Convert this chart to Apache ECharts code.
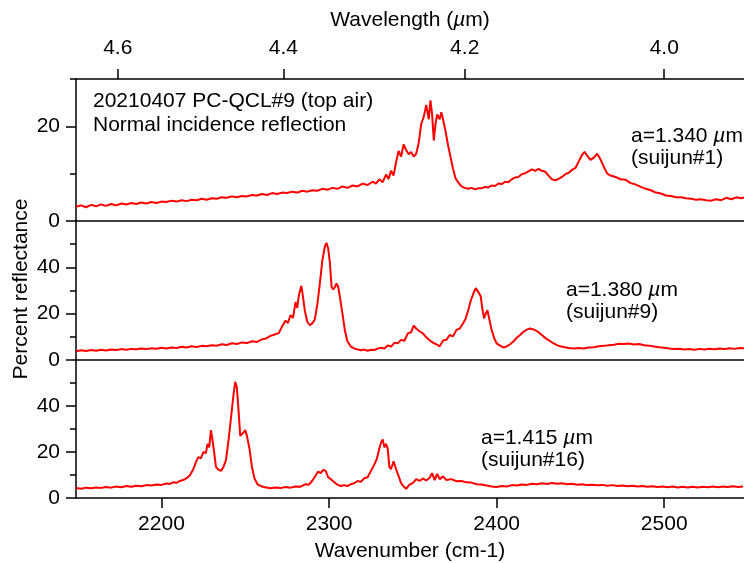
<!DOCTYPE html>
<html><head><meta charset="utf-8">
<script src="https://cdn.jsdelivr.net/npm/echarts@6/dist/echarts.min.js"></script>
<style>html,body{margin:0;padding:0;background:#fff}#c{width:744px;height:563px}</style>
</head><body><div id="c"></div>
<script>
// ---- data ----
const wn1=[2149,2152,2155,2158,2161,2164,2167,2170,2173,2176,2179,2182,2185,2188,2191,2194,2197,2200,2203,2206,2209,2212,2215,2218,2221,2224,2227,2230,2233,2236,2239,2242,2245,2248,2251,2254,2257,2260,2263,2266,2269,2272,2275,2278,2281,2284,2287,2290,2293,2296,2299,2302,2305,2308,2311,2314,2317,2320,2323,2326,2328,2330,2332,2334,2335.5,2337,2338.5,2340,2341.5,2343,2344.5,2346,2347.5,2349,2350.5,2352,2353.5,2355,2356.5,2358,2359.5,2360.5,2361.5,2362.5,2363.5,2364.5,2366,2367,2368,2369.5,2371,2372.5,2374,2375.5,2377,2379,2381,2383,2385,2387,2389,2391,2393,2395,2397,2399,2401,2403,2405,2407,2409,2411,2413,2415,2417,2419,2421,2423,2425,2427,2429,2431,2433,2435,2437,2439,2441,2443,2445,2447,2449,2451,2452.5,2454,2456,2458,2460,2462,2464,2466,2468,2471,2474,2477,2480,2483,2486,2489,2492,2495,2498,2501,2504,2507,2510,2513,2516,2519,2522,2525,2528,2531,2534,2537,2540,2543,2546,2548];
const r1=[3.0,3.3,2.9,3.4,3.1,3.5,3.2,3.6,3.3,3.7,3.5,3.8,3.6,3.9,3.7,4.0,3.8,4.1,4.0,4.3,4.1,4.4,4.2,4.5,4.4,4.7,4.5,4.8,4.7,5.0,4.9,5.2,5.0,5.3,5.2,5.5,5.4,5.7,5.5,5.9,5.7,6.0,5.9,6.2,6.0,6.4,6.2,6.5,6.4,6.8,6.6,7.0,6.8,7.3,7.0,7.5,7.3,7.9,7.6,8.3,7.9,8.8,8.2,9.8,8.9,10.6,9.6,12.5,14.8,13.6,16.2,15.0,14.1,14.6,13.6,14.2,16.5,20.5,22.0,24.5,21.5,25.5,22.5,17.0,20.5,22.5,21.5,23.0,21.5,19.0,16.0,13.5,11.0,9.0,8.2,7.3,7.0,6.8,7.0,6.7,6.9,6.9,7.2,7.1,7.5,7.4,7.9,7.8,8.3,8.2,8.8,9.2,9.3,9.9,10.1,10.5,10.9,10.6,11.0,10.6,10.4,9.6,8.8,8.6,8.9,9.3,9.9,10.2,10.8,11.2,12.6,14.0,14.6,13.8,12.9,13.4,14.2,13.0,11.4,10.0,9.6,9.3,8.8,8.7,8.0,7.7,7.2,6.8,6.5,6.0,5.8,5.4,5.3,5.0,5.0,4.8,4.7,4.5,4.6,4.4,4.3,4.6,4.4,4.9,4.6,5.0,4.8,5.0];

const wn2=[2149,2152,2155,2158,2161,2164,2167,2170,2173,2176,2179,2182,2185,2188,2191,2194,2197,2200,2203,2206,2209,2212,2215,2218,2221,2224,2227,2230,2233,2236,2239,2242,2245,2248,2251,2254,2257,2260,2262.5,2265,2267.5,2270,2272,2274,2275.5,2277,2278.5,2280,2281,2282,2283.5,2284.5,2285.5,2287,2288.5,2290,2291.5,2293,2294.5,2296,2297.5,2298.5,2299.5,2300.5,2301.5,2302.5,2303.5,2304.5,2305.5,2306.5,2308,2309.5,2311,2313,2315,2317,2319,2321,2323,2325,2327,2329,2331,2333,2335,2337,2339,2341,2343,2345,2347,2349,2350.5,2352,2354,2356,2358,2360,2362,2364,2366,2368,2370,2372,2374,2376,2378,2380,2381.5,2383,2384.5,2386,2387.5,2389,2390.5,2391.5,2392.5,2393.5,2394.5,2395.5,2397,2398.5,2400,2402,2404,2406,2408,2410,2412,2414,2416,2418,2420,2422,2424,2426,2428,2430,2432,2434,2436,2438,2440,2443,2446,2449,2452,2455,2458,2461,2464,2467,2470,2473,2476,2479,2482,2485,2488,2491,2494,2497,2500,2503,2506,2509,2512,2515,2518,2521,2524,2527,2530,2533,2536,2539,2542,2545,2548];
const r2=[3.8,4.2,3.9,4.3,4.0,4.4,4.1,4.5,4.3,4.7,4.4,4.8,4.6,5.0,4.7,5.1,4.9,5.3,5.0,5.4,5.2,5.7,5.4,5.9,5.6,6.1,5.9,6.4,6.2,6.8,6.5,7.2,6.9,7.6,7.3,8.1,7.8,8.9,9.3,10.4,11.0,11.6,14.5,17.0,16.0,19.4,18.2,25.0,22.5,28.0,32.0,27.0,21.5,16.5,15.0,15.8,17.5,24.0,33.0,43.0,49.0,50.5,48.0,42.0,31.5,30.5,31.5,33.0,31.5,27.0,20.0,12.5,8.0,5.8,5.0,4.6,4.2,4.5,4.0,4.4,4.3,4.9,5.3,5.0,6.3,5.8,7.4,7.2,8.7,8.3,11.5,12.0,14.8,13.6,12.4,11.5,9.8,8.5,7.5,6.8,5.9,8.4,8.7,10.8,10.2,13.0,13.6,15.9,17.8,21.5,25.5,28.5,31.0,29.5,27.5,22.0,18.0,20.0,21.5,18.0,13.0,9.5,7.2,6.2,5.4,5.9,6.8,8.0,9.6,10.8,12.2,13.1,13.6,13.2,12.5,11.4,10.1,9.0,8.1,7.2,6.4,5.9,5.6,5.2,5.0,5.2,5.0,5.4,5.5,5.9,6.1,6.4,6.6,7.0,6.9,7.1,6.7,6.9,6.4,6.2,5.8,5.5,5.3,5.0,4.8,4.9,4.5,4.7,4.4,4.8,4.5,4.9,4.6,5.0,4.7,5.1,4.8,5.2,5.0];

const wn3=[2149,2152,2155,2158,2161,2164,2167,2170,2173,2176,2179,2182,2185,2188,2191,2194,2197,2200,2203,2205,2207,2209,2211,2213,2215,2217,2219,2220.5,2222,2223.5,2225,2226.5,2227.5,2228.5,2229.5,2230.5,2231.5,2232.5,2234,2235.5,2237,2238.5,2240,2241.5,2243,2244,2245,2246,2247,2248,2249,2250,2251,2252.5,2254,2255.5,2257.5,2260,2262.5,2265,2268,2271,2274,2277,2280,2283,2286,2288,2290,2292,2293.5,2295,2296.5,2298,2299.5,2301,2303,2305,2307,2309,2311,2313,2315,2317,2319,2321,2323,2325,2327,2328.5,2330,2331,2332,2333,2334,2335,2336,2337,2338.5,2340,2341.5,2343,2344.5,2346,2348,2350,2352,2354,2356,2358,2360,2361.5,2363,2364.5,2366,2368,2370,2373,2376,2379,2382,2385,2388,2391,2394,2397,2400,2403,2406,2409,2412,2415,2418,2421,2424,2427,2430,2433,2436,2439,2442,2445,2448,2451,2454,2457,2460,2463,2466,2469,2472,2475,2478,2481,2484,2487,2490,2493,2496,2499,2502,2505,2508,2511,2514,2517,2520,2523,2526,2529,2532,2535,2538,2541,2544,2547];
const r3=[4.3,4.0,4.5,4.2,4.6,4.4,4.8,4.5,5.0,4.7,5.2,4.9,5.3,5.1,5.6,5.4,5.9,5.7,6.3,6.1,6.8,6.6,7.4,7.8,8.6,9.9,12.5,15.5,17.8,17.2,20.0,19.5,23.5,22.0,29.5,25.0,19.5,13.5,12.3,11.8,13.5,16.5,25.0,35.0,45.0,50.5,48.0,38.0,27.0,26.5,28.5,29.5,27.0,21.5,13.5,8.5,5.8,5.0,4.6,4.2,4.6,4.3,4.8,4.5,5.0,4.9,6.0,5.8,7.5,9.8,11.5,10.8,12.2,11.8,9.0,8.2,7.0,5.8,5.2,5.6,5.2,6.0,6.4,7.4,7.0,8.6,9.0,11.8,14.5,17.0,21.5,24.0,25.5,22.0,23.5,21.5,13.5,12.5,16.0,12.5,9.5,6.5,5.0,4.0,5.8,6.5,8.2,7.4,8.5,7.6,8.8,10.8,7.8,10.5,8.2,9.4,7.8,8.2,7.3,7.4,6.8,6.7,6.0,5.9,5.4,5.0,4.8,5.2,5.0,5.6,5.4,5.9,5.7,6.2,6.0,6.4,6.1,6.5,6.2,6.4,6.0,6.2,5.8,6.0,5.6,5.8,5.5,5.7,5.3,5.6,5.2,5.4,5.1,5.3,5.0,5.2,4.9,5.1,4.8,5.0,4.7,5.0,4.6,4.9,4.6,4.9,4.6,4.9,4.7,5.0,4.7,5.0,4.8,5.1,4.8,5.0];

const bottomTicks=[2200,2300,2400,2500];
const topWavelengths=[4.6,4.4,4.2,4.0];
const yMajor1=[0,20], yMinor1=[10,30];
const yMajor23=[0,20,40], yMinor23=[10,30,50,60];
const yMax=[30,60,60];

// ---- chart ----
const FONT='"Liberation Sans", Arial, Helvetica, sans-serif';
const FS=21;
const X_MIN=2149, X_MAX=2547.6;
const BLACK='#000';
const gridsPx=[{top:79,height:142},{top:221,height:139},{top:360,height:138}];
const zip=(a,b)=>a.map((v,i)=>[v,b[i]]);

const grids=gridsPx.map(g=>({left:76,right:-2,top:g.top,height:g.height,show:false}));
const lineOnly={show:true,onZero:false,lineStyle:{color:BLACK,width:1.5}};
const tickStyle={color:BLACK,width:1.5};
const xAxes=[
  {gridIndex:0,type:'value',position:'bottom',min:X_MIN,max:X_MAX,axisLine:lineOnly,axisTick:{show:false},axisLabel:{show:false},splitLine:{show:false}},
  {gridIndex:0,type:'value',position:'top',min:X_MIN,max:X_MAX,axisLine:lineOnly,
    axisTick:{show:true,inside:false,length:10,lineStyle:tickStyle,customValues:topWavelengths.map(l=>10000/l)},
    axisLabel:{show:true,customValues:topWavelengths.map(l=>10000/l),formatter:v=>(10000/v).toFixed(1),color:BLACK,fontSize:FS,fontFamily:FONT,margin:20},
    splitLine:{show:false},
    name:'{n|Wavelength (}{i|µ}{n|m)}',nameLocation:'middle',nameGap:48,
    nameTextStyle:{rich:{n:{fontSize:FS,fontFamily:FONT,color:BLACK},i:{fontSize:FS,fontFamily:FONT,color:BLACK,fontStyle:'italic'}}}},
  {gridIndex:1,type:'value',position:'bottom',min:X_MIN,max:X_MAX,axisLine:lineOnly,axisTick:{show:false},axisLabel:{show:false},splitLine:{show:false}},
  {gridIndex:2,type:'value',position:'bottom',min:X_MIN,max:X_MAX,axisLine:lineOnly,
    axisTick:{show:true,inside:false,length:10,lineStyle:tickStyle,customValues:bottomTicks},
    axisLabel:{show:true,customValues:bottomTicks,formatter:v=>String(v),color:BLACK,fontSize:FS,fontFamily:FONT,margin:16},
    splitLine:{show:false},
    name:'Wavenumber (cm-1)',nameLocation:'middle',nameGap:43,
    nameTextStyle:{fontSize:FS,fontFamily:FONT,color:BLACK}}
];
const yAxes=[];
[0,1,2].forEach(i=>{
  const maj=i===0?yMajor1:yMajor23, mnr=i===0?yMinor1:yMinor23;
  yAxes.push({gridIndex:i,type:'value',position:'left',min:0,max:yMax[i],axisLine:lineOnly,
    axisTick:{show:true,inside:false,length:10,lineStyle:tickStyle,customValues:maj},
    axisLabel:{show:true,customValues:maj,formatter:v=>String(v),color:BLACK,fontSize:FS,fontFamily:FONT,margin:16},
    splitLine:{show:false}});
  yAxes.push({gridIndex:i,type:'value',position:'left',min:0,max:yMax[i],axisLine:{show:false,onZero:false},
    axisTick:{show:true,inside:false,length:6,lineStyle:tickStyle,customValues:mnr},
    axisLabel:{show:false},splitLine:{show:false}});
});
const mkSeries=(i,x,y)=>({type:'line',xAxisIndex:i===0?0:(i===1?2:3),yAxisIndex:i*2,data:zip(x,y),
  showSymbol:false,symbol:'none',lineStyle:{color:'#ff0000',width:2},itemStyle:{color:'#ff0000'},z:1,silent:true});

const tstyle=(x,y,text)=>({type:'text',left:x,top:y,style:{text:text,fontSize:FS,fontFamily:FONT,fill:BLACK,
  rich:{i:{fontSize:FS,fontFamily:FONT,fontStyle:'italic',fill:BLACK}}},z:10});

const chart=echarts.init(document.getElementById('c'),null,{renderer:'canvas'});
chart.setOption({
  animation:false,
  backgroundColor:'#fff',
  grid:grids,xAxis:xAxes,yAxis:yAxes,
  series:[mkSeries(0,wn1,r1),mkSeries(1,wn2,r2),mkSeries(2,wn3,r3)],
  graphic:[
    tstyle(93,91,'20210407 PC-QCL#9 (top air)'),
    tstyle(93,115,'Normal incidence reflection'),
    tstyle(631,126,'a=1.340 {i|µ}m'),
    tstyle(631,148,'(suijun#1)'),
    tstyle(566,280,'a=1.380 {i|µ}m'),
    tstyle(566,302,'(suijun#9)'),
    tstyle(481,428,'a=1.415 {i|µ}m'),
    tstyle(481,450,'(suijun#16)'),
    {type:'text',x:21,y:289,rotation:Math.PI/2,style:{text:'Percent reflectance',fontSize:FS,fontFamily:FONT,fill:BLACK,textAlign:'center',textVerticalAlign:'middle'}}
  ]
});
</script></body></html>
